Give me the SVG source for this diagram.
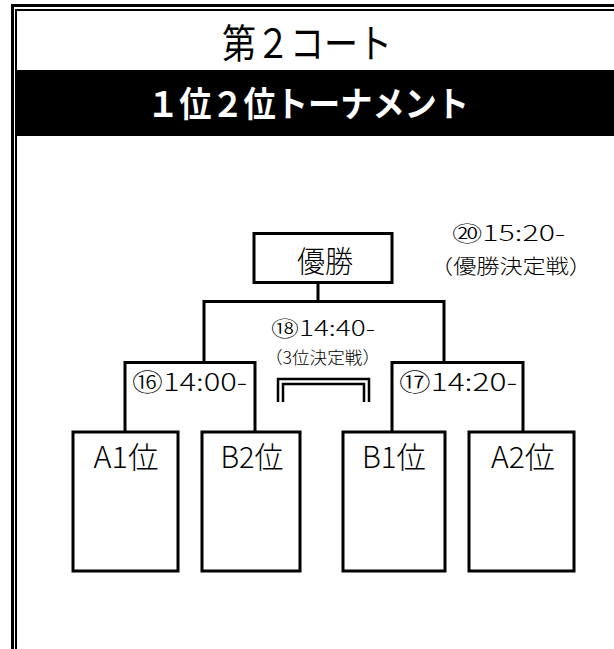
<svg xmlns="http://www.w3.org/2000/svg" width="614" height="649" viewBox="0 0 614 649">
<style>
  text { font-family: "Noto Sans CJK JP", "Noto Sans", sans-serif; fill: #000; text-anchor: middle; dominant-baseline: central; font-weight: 300; }
  .title { font-size: 40px; font-weight: 400; }
  .head { font-size: 35px; font-weight: bold; fill: #fff; }
  .lbl { font-size: 30px; }
  .time { font-size: 24px; }
  .time2 { font-size: 21px; }
  .sub { font-size: 20px; }
  .small { font-size: 17px; }
  .box { fill: #fff; stroke: #000; stroke-width: 3; }
  .ln { fill: none; stroke: #000; stroke-width: 3; }
  .dbl { fill: none; stroke: #000; stroke-width: 2.5; }
</style>
<rect x="0" y="0" width="614" height="649" fill="#fff"/>
<g id="frame">
  <path d="M12.5 649 V5.5 H614" fill="none" stroke="#000" stroke-width="3"/>
  <path d="M16 649 V10 H614" fill="none" stroke="#000" stroke-width="2"/>
  <rect x="15" y="70" width="599" height="66" fill="#000"/>
  <text class="title" x="307" y="41" textLength="170" lengthAdjust="spacingAndGlyphs">第２コート</text>
  <text class="head" x="308" y="101" textLength="322" lengthAdjust="spacingAndGlyphs">１位２位トーナメント</text>
</g>
<g id="connectors">
  <path class="ln" d="M318 283 V301.5"/>
  <path class="ln" d="M204 362.5 V301.5 H444 V362.5"/>
  <path class="ln" d="M125 432 V362.5 H255 V432"/>
  <path class="ln" d="M392 432 V362.5 H523 V432"/>
  <path class="dbl" d="M278 402 V379 H369 V402"/>
  <path class="dbl" d="M283 402 V384 H364 V402"/>
</g>
<g id="winner">
  <rect class="box" x="254" y="233.5" width="138" height="49"/>
  <text class="lbl" x="325" y="258.5" textLength="56" lengthAdjust="spacingAndGlyphs">優勝</text>
</g>
<g id="final-label">
  <text class="time2" x="508.5" y="232" textLength="113" lengthAdjust="spacingAndGlyphs">⑳15:20-</text>
  <text class="sub" x="511" y="265" textLength="162" lengthAdjust="spacingAndGlyphs">（優勝決定戦）</text>
</g>
<g id="third-label">
  <text class="time2" x="323" y="327" textLength="104" lengthAdjust="spacingAndGlyphs">⑱14:40-</text>
  <text class="small" x="322.5" y="356" textLength="115" lengthAdjust="spacingAndGlyphs">（3位決定戦）</text>
</g>
<g id="semi1-label">
  <text class="time" x="189.5" y="380" textLength="115" lengthAdjust="spacingAndGlyphs">⑯14:00-</text>
</g>
<g id="semi2-label">
  <text class="time" x="458" y="380" textLength="118" lengthAdjust="spacingAndGlyphs">⑰14:20-</text>
</g>
<g id="A1">
  <rect class="box" x="73" y="432" width="105" height="139"/>
  <text class="lbl" x="126" y="455" textLength="65" lengthAdjust="spacingAndGlyphs">A1位</text>
</g>
<g id="B2">
  <rect class="box" x="202" y="432" width="98" height="139"/>
  <text class="lbl" x="252" y="455" textLength="63" lengthAdjust="spacingAndGlyphs">B2位</text>
</g>
<g id="B1">
  <rect class="box" x="343" y="432" width="102" height="139"/>
  <text class="lbl" x="394" y="455" textLength="64" lengthAdjust="spacingAndGlyphs">B1位</text>
</g>
<g id="A2">
  <rect class="box" x="469" y="432" width="105" height="139"/>
  <text class="lbl" x="523" y="455" textLength="64" lengthAdjust="spacingAndGlyphs">A2位</text>
</g>
</svg>
